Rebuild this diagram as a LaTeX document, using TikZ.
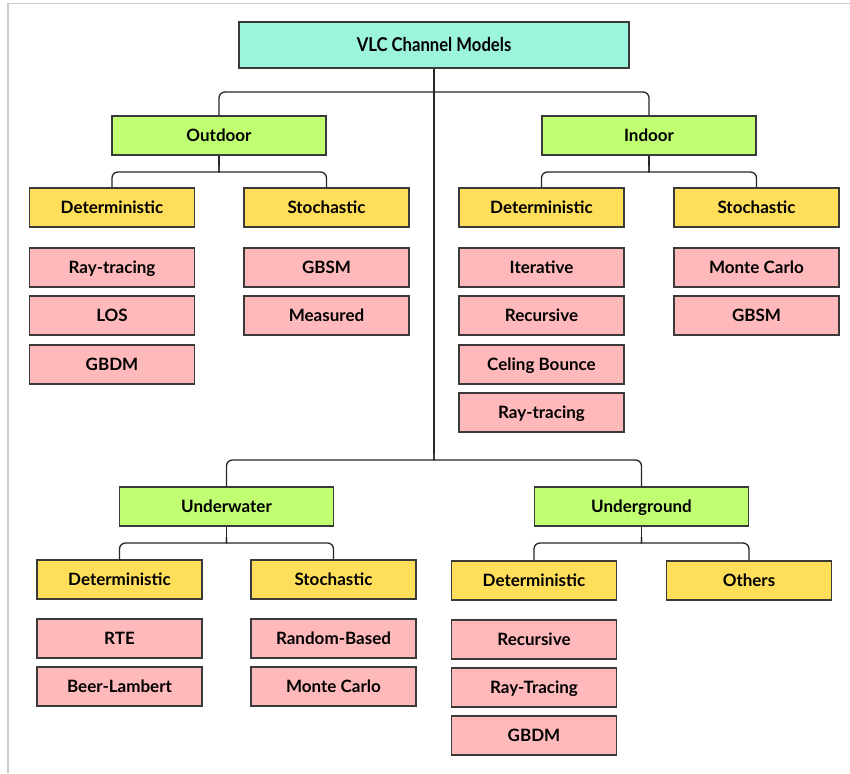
\documentclass[tikz,border=0pt]{standalone}
\usepackage{fontspec}
\setmainfont{Lato}[BoldFont={Lato Bold}]
\definecolor{rootc}{HTML}{9DF4DC}
\definecolor{catc}{HTML}{C1FF72}
\definecolor{subc}{HTML}{FFDE59}
\definecolor{leafc}{HTML}{FFB9BB}
\definecolor{edgec}{HTML}{3A3A3A}
\definecolor{framec}{HTML}{CCCCCC}
\begin{document}
\begin{tikzpicture}[x=1pt,y=-1pt,
  box/.style={draw=edgec,line width=1.2pt,inner sep=0pt,text height=12.2pt,text depth=0pt,font=\fontsize{17}{20}\selectfont\bfseries},
  rootbox/.style={box,fill=rootc,minimum width=390,minimum height=46},
  catbox/.style={box,fill=catc,minimum width=214,minimum height=39},
  subbox/.style={box,fill=subc,minimum width=165,minimum height=39},
  leafbox/.style={box,fill=leafc,minimum width=165,minimum height=39},
  conn/.style={draw=black!85,line width=1.3pt,rounded corners=6}]
\useasboundingbox (0,0) rectangle (850,773);
\draw[framec,line width=1.2pt] (850,3.3) -- (8,3.3) -- (8,773);

\node[rootbox] (root) at (434,45) {\scalebox{0.98}[1.12]{VLC Channel Models}};

\node[catbox] (outdoor) at (219,135.5) {Outdoor};
\node[catbox] (indoor) at (649,135.5) {Indoor};
\node[catbox] (underwater) at (226.5,506.5) {Underwater};
\node[catbox] (underground) at (641.5,506.5) {Underground};

\node[subbox] (odet) at (112,207.5) {Deterministic};
\node[subbox] (osto) at (326.5,207.5) {Stochastic};
\node[subbox] (idet) at (541.5,207.5) {Deterministic};
\node[subbox] (isto) at (756.5,207.5) {Stochastic};
\node[subbox] (wdet) at (119.5,579.5) {Deterministic};
\node[subbox] (wsto) at (333.5,579.5) {Stochastic};
\node[subbox] (gdet) at (534,580.5) {Deterministic};
\node[subbox] (goth) at (749,580.5) {Others};

\node[leafbox] at (112,267.5) {Ray-tracing};
\node[leafbox] at (112,315.5) {LOS};
\node[leafbox] at (112,364.5) {GBDM};
\node[leafbox] at (326.5,267.5) {GBSM};
\node[leafbox] at (326.5,315.5) {Measured};
\node[leafbox] at (541.5,267.5) {Iterative};
\node[leafbox] at (541.5,315.5) {Recursive};
\node[leafbox] at (541.5,364.5) {Celing Bounce};
\node[leafbox] at (541.5,412.5) {Ray-tracing};
\node[leafbox] at (756.5,267.5) {Monte Carlo};
\node[leafbox] at (756.5,315.5) {GBSM};
\node[leafbox] at (119.5,638.5) {RTE};
\node[leafbox] at (119.5,686.5) {Beer-Lambert};
\node[leafbox] at (333.5,638.5) {Random-Based};
\node[leafbox] at (333.5,686.5) {Monte Carlo};
\node[leafbox] at (534,639.5) {Recursive};
\node[leafbox] at (534,687.5) {Ray-Tracing};
\node[leafbox] at (534,735.5) {GBDM};

% root junctions
\coordinate (j1) at (434,86);
\coordinate (j2) at (434,454);
\draw[conn] (root.south) -- (j2);
\draw[conn] (j1) .. controls (434,92) .. (428,92) -- (outdoor.north |- 0,92) -- (outdoor.north);
\draw[conn] (j1) .. controls (434,92) .. (440,92) -- (indoor.north |- 0,92) -- (indoor.north);
\draw[conn] (j2) .. controls (434,460) .. (428,460) -- (underwater.north |- 0,460) -- (underwater.north);
\draw[conn] (j2) .. controls (434,460) .. (440,460) -- (underground.north |- 0,460) -- (underground.north);

% outdoor
\coordinate (jo) at (219,166);
\draw[conn] (outdoor.south) -- (jo);
\draw[conn] (jo) .. controls (219,172) .. (213,172) -- (odet.north |- 0,172) -- (odet.north);
\draw[conn] (jo) .. controls (219,172) .. (225,172) -- (osto.north |- 0,172) -- (osto.north);
% indoor
\coordinate (ji) at (649,166);
\draw[conn] (indoor.south) -- (ji);
\draw[conn] (ji) .. controls (649,172) .. (643,172) -- (idet.north |- 0,172) -- (idet.north);
\draw[conn] (ji) .. controls (649,172) .. (655,172) -- (isto.north |- 0,172) -- (isto.north);
% underwater
\coordinate (jw) at (226.5,537);
\draw[conn] (underwater.south) -- (jw);
\draw[conn] (jw) .. controls (226.5,543) .. (220.5,543) -- (wdet.north |- 0,543) -- (wdet.north);
\draw[conn] (jw) .. controls (226.5,543) .. (232.5,543) -- (wsto.north |- 0,543) -- (wsto.north);
% underground
\coordinate (jg) at (641.5,537);
\draw[conn] (underground.south) -- (jg);
\draw[conn] (jg) .. controls (641.5,543) .. (635.5,543) -- (gdet.north |- 0,543) -- (gdet.north);
\draw[conn] (jg) .. controls (641.5,543) .. (647.5,543) -- (goth.north |- 0,543) -- (goth.north);
\end{tikzpicture}
\end{document}
